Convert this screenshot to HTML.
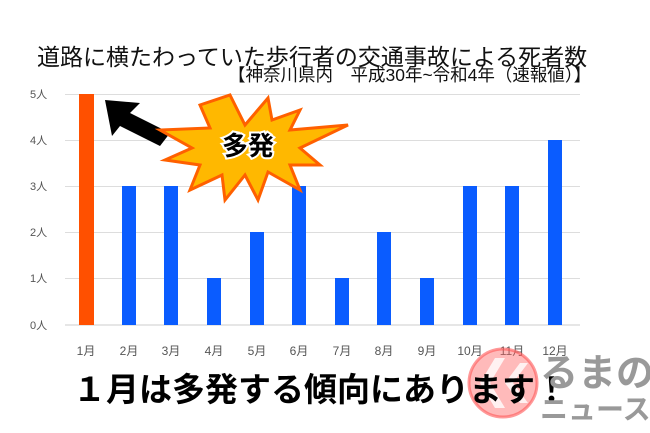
<!DOCTYPE html>
<html><head><meta charset="utf-8"><style>
body{margin:0;background:#fff;width:650px;height:433px;overflow:hidden;position:relative;font-family:"Liberation Sans","Noto Sans CJK JP",sans-serif}
.t{position:absolute;white-space:nowrap}
</style></head><body>
<svg width="650" height="433" style="position:absolute;left:0;top:0">
<g stroke="#ddd" stroke-width="1">
<line x1="65" x2="580" y1="94.5" y2="94.5"/><line x1="65" x2="580" y1="140.5" y2="140.5"/>
<line x1="65" x2="580" y1="186.5" y2="186.5"/><line x1="65" x2="580" y1="232.5" y2="232.5"/>
<line x1="65" x2="580" y1="278.5" y2="278.5"/><line x1="65" x2="580" y1="325" y2="325" stroke="#ccc"/>
</g>
<g font-size="11" fill="#555" font-family="Liberation Sans,Noto Sans CJK JP,sans-serif">
<text x="30" y="98">5人</text><text x="30" y="144">4人</text><text x="30" y="190">3人</text>
<text x="30" y="236">2人</text><text x="30" y="282">1人</text><text x="30" y="329">0人</text>
</g>
<rect x="79" y="94" width="15" height="231" fill="#ff5000"/>
<g fill="#0a5cff">
<rect x="122" y="186" width="14" height="139"/><rect x="164" y="186" width="14" height="139"/>
<rect x="207" y="278" width="14" height="47"/><rect x="250" y="232" width="14" height="93"/>
<rect x="292" y="186" width="14" height="139"/><rect x="335" y="278" width="14" height="47"/>
<rect x="377" y="232" width="14" height="93"/><rect x="420" y="278" width="14" height="47"/>
<rect x="463" y="186" width="14" height="139"/><rect x="505" y="186" width="14" height="139"/>
<rect x="548" y="140" width="14" height="185"/>
</g>
<g font-size="12" fill="#555" text-anchor="middle" font-family="Liberation Sans,Noto Sans CJK JP,sans-serif">
<text x="86" y="355">1月</text><text x="129" y="355">2月</text><text x="171" y="355">3月</text>
<text x="214" y="355">4月</text><text x="257" y="355">5月</text><text x="299" y="355">6月</text>
<text x="342" y="355">7月</text><text x="384" y="355">8月</text><text x="427" y="355">9月</text>
<text x="470" y="355">10月</text><text x="512" y="355">11月</text><text x="555" y="355">12月</text>
</g>
<polygon points="105,100 140,103 130,113 170,133 160,146 120,126 112,136" fill="#000"/>
<polygon points="230,95 245,125 268,98 272,120 300,110 290,130 348,125 300,148 320,165 290,165 300,190 268,172 258,200 245,175 225,200 222,175 190,190 200,165 165,160 192,148 160,130 210,128 200,105" fill="#ffb800" stroke="#ff6000" stroke-width="3" stroke-linejoin="miter"/>
<text x="248" y="155" font-size="26" font-weight="bold" text-anchor="middle" fill="#000" stroke="#fff" stroke-width="4" paint-order="stroke" font-family="Noto Sans CJK JP,sans-serif">多発</text>
<circle cx="503" cy="383" r="34" fill="#f66" fill-opacity="0.45" stroke="#f55" stroke-opacity="0.6" stroke-width="3"/>
<polygon points="495,358 480,383 495,408 505,408 490,383 505,358" fill="#fff" fill-opacity="0.8"/>
<polygon points="520,363 505,383 520,403 528,403 513,383 528,363" fill="#fff" fill-opacity="0.8"/>
</svg>
<div class="t" style="left:37px;top:38px;font-size:23px;color:#111">道路に横たわっていた歩行者の交通事故による死者数</div>
<div class="t" style="left:228px;top:62px;font-size:17.5px;color:#111">【神奈川県内　平成30年~令和4年（速報値）】</div>
<div class="t" style="left:73px;top:363px;font-size:33px;font-weight:bold;color:#000">１月は多発する傾向にあります！</div>
<div class="t" style="left:540px;top:342px;font-size:38px;font-weight:bold;color:#999">るまの</div>
<div class="t" style="left:540px;top:388px;font-size:28px;font-weight:bold;color:#999">ニュース</div>
</body></html>
